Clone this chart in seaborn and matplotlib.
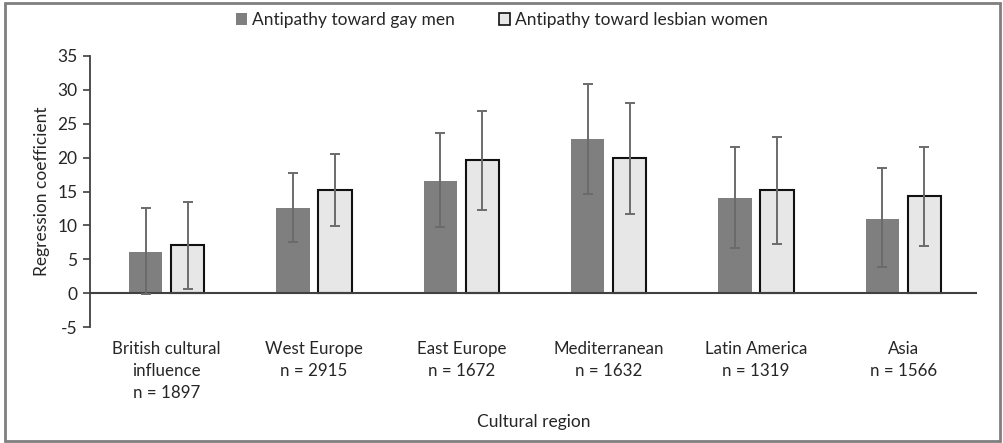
import pandas as pd
import matplotlib
matplotlib.use("Agg")
import matplotlib.pyplot as plt
from matplotlib.patches import Patch, Rectangle
import seaborn as sns

# =========================
# DATOS
# =========================
regions = [
    "British cultural\ninfluence\nn = 1897",
    "West Europe\nn = 2915",
    "East Europe\nn = 1672",
    "Mediterranean\nn = 1632",
    "Latin America\nn = 1319",
    "Asia\nn = 1566",
]
series = ["Antipathy toward gay men", "Antipathy toward lesbian women"]

gay_mean = [6.1, 12.6, 16.6, 22.8, 14.1, 11.0]
gay_low = [-0.2, 7.6, 9.7, 14.7, 6.6, 3.8]
gay_high = [12.5, 17.8, 23.6, 30.9, 21.6, 18.4]

les_mean = [7.1, 15.2, 19.6, 19.9, 15.2, 14.3]
les_low = [0.6, 9.9, 12.2, 11.7, 7.3, 6.9]
les_high = [13.4, 20.6, 26.9, 28.0, 23.0, 21.6]

df = pd.DataFrame({
    "region": regions * 2,
    "serie": [series[0]] * len(regions) + [series[1]] * len(regions),
    "coef": gay_mean + les_mean,
})

# =========================
# GRAFICO
# =========================
sns.set_style("white")
plt.rcParams["font.family"] = ["Lato", "DejaVu Sans"]
plt.rcParams["axes.unicode_minus"] = False

fig = plt.figure(figsize=(10.04, 4.43), dpi=100)
ax = fig.add_axes([90 / 1004, 1 - 327 / 443, (977 - 90) / 1004, (327 - 56) / 443])

sns.barplot(
    data=df, x="region", y="coef", hue="serie",
    palette=["#7f7f7f", "#e7e7e7"], width=0.572, gap=0.21,
    errorbar=None, ax=ax, legend=False,
)

# bordes de las barras
for bar in ax.containers[0]:
    bar.set_edgecolor("none")
for bar in ax.containers[1]:
    bar.set_edgecolor("#111111")
    bar.set_linewidth(1.5)

# barras de error (intervalos)
for cont, mean, low, high in [
    (ax.containers[0], gay_mean, gay_low, gay_high),
    (ax.containers[1], les_mean, les_low, les_high),
]:
    xs = [b.get_x() + b.get_width() / 2 for b in cont]
    err = [[m - l for m, l in zip(mean, low)], [h - m for m, h in zip(mean, high)]]
    ax.errorbar(xs, mean, yerr=err, fmt="none", ecolor="#6b6b6b",
                elinewidth=1.4, capsize=3.5, capthick=1.4, zorder=5)

ax.axhline(0, color="#404040", linewidth=1.5, zorder=4)
ax.set_ylim(-5, 35)
ax.set_yticks(range(-5, 40, 5))
ax.set_xlim(-0.52, 5.5)

for s in ["top", "right", "bottom"]:
    ax.spines[s].set_visible(False)
ax.spines["left"].set_color("#404040")
ax.spines["left"].set_linewidth(1.3)

ax.tick_params(axis="y", direction="out", length=5, width=1.2, color="#404040",
               labelsize=12.5, labelcolor="#262626", pad=4, left=True)
ax.tick_params(axis="x", length=0, labelsize=12.2, labelcolor="#262626", pad=10)
for lab in ax.get_xticklabels():
    lab.set_linespacing(1.45)

ax.set_xlabel("Cultural region", fontsize=12.5, color="#262626", labelpad=10)
ax.set_ylabel("Regression coefficient", fontsize=12.5, color="#262626", labelpad=5)

# leyenda
handles = [
    Patch(facecolor="#7f7f7f", edgecolor="none"),
    Patch(facecolor="#e7e7e7", edgecolor="#111111", linewidth=1.2),
]
fig.legend(handles, series, loc="center", bbox_to_anchor=(0.5, 1 - 20 / 443),
           ncol=2, frameon=False, fontsize=12.5, handlelength=0.65, handleheight=0.65,
           handletextpad=0.3, columnspacing=2.5, labelcolor="#262626")

# marco exterior
fig.patches.append(Rectangle((5 / 1004, 2 / 443), 995 / 1004, 438 / 443,
                             transform=fig.transFigure, fill=False,
                             edgecolor="#7f7f7f", linewidth=2))

fig.savefig("out.png", dpi=100)
